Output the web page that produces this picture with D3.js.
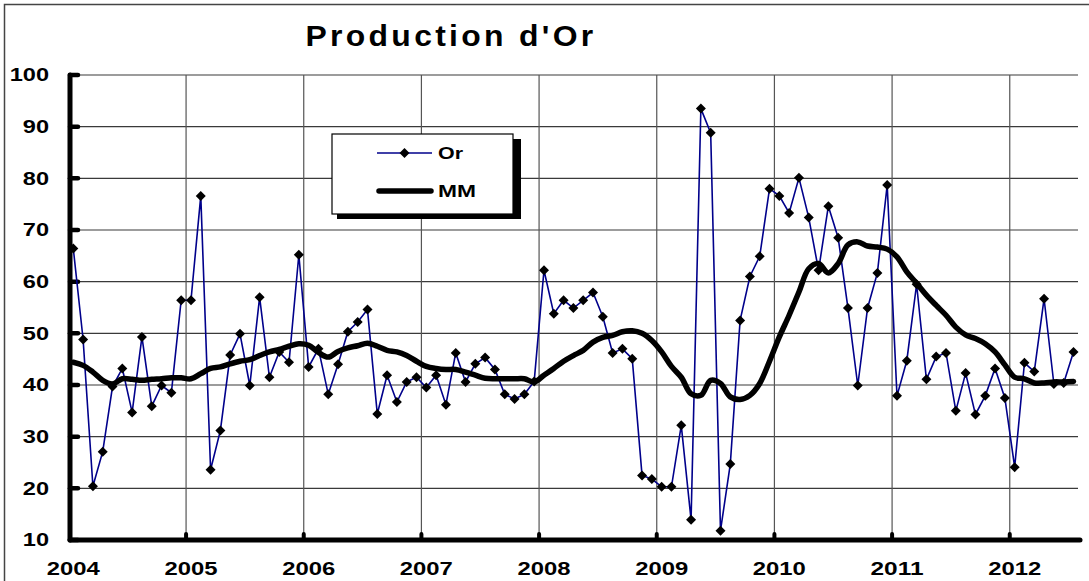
<!DOCTYPE html>
<html>
<head>
<meta charset="utf-8">
<script src="https://cdn.jsdelivr.net/npm/d3@7"></script>
<style>
  body { margin: 0; background: #fff; }
  svg { display: block; }
</style>
</head>
<body>
<script>
// data (monthly, Jan 2004 .. Jul 2012)
const years = ['2004','2005','2006','2007','2008','2009','2010','2011','2012']
const y_ticks = [10,20,30,40,50,60,70,80,90,100]
const or_values = [
    66.4, 48.8, 20.4, 27.1, 39.7, 43.2, 34.7, 49.3, 35.9, 39.9, 38.5, 56.4,
    56.4, 76.6, 23.6, 31.2, 45.8, 49.9, 39.9, 57.0, 41.5, 46.4, 44.4, 65.2,
    43.5, 47.0, 38.2, 44.0, 50.3, 52.2, 54.6, 34.4, 41.9, 36.7, 40.6, 41.5,
    39.5, 41.9, 36.2, 46.2, 40.6, 44.1, 45.3, 43.0, 38.2, 37.3, 38.2, 40.7,
    62.2, 53.8, 56.4, 54.9, 56.4, 57.9, 53.2, 46.2, 47.0, 45.1, 22.5, 21.8,
    20.3, 20.3, 32.2, 13.9, 93.5, 88.8, 11.8, 24.7, 52.5, 61.0, 64.9, 78.0,
    76.6, 73.3, 80.1, 72.4, 62.2, 74.6, 68.5, 54.9, 39.9, 54.9, 61.7, 78.7,
    37.9, 44.7, 59.5, 41.1, 45.5, 46.2, 35.0, 42.3, 34.3, 37.9, 43.2, 37.5,
    24.1, 44.3, 42.6, 56.7, 40.2, 40.4, 46.4
]
const mm_values = [
    44.4, 43.8, 42.5, 40.9, 40.2, 41.2, 41.1, 40.9, 41.1, 41.2, 41.4, 41.4,
    41.2, 42.2, 43.2, 43.5, 44.1, 44.6, 44.9, 45.7, 46.4, 46.9, 47.5, 48.0,
    47.7, 46.3, 45.4, 46.5, 47.2, 47.6, 48.1, 47.5, 46.7, 46.4, 45.7, 44.6,
    43.6, 43.2, 43.0, 43.0, 42.5, 41.9, 41.3, 41.2, 41.2, 41.2, 41.2, 40.6,
    41.9, 43.2, 44.6, 45.7, 46.7, 48.3, 49.2, 49.6, 50.3, 50.5, 50.0, 48.6,
    46.4, 43.6, 41.5, 38.3, 38.0, 40.9, 40.3, 37.7, 37.2, 38.0, 40.3, 44.6,
    49.3, 53.5, 58.0, 62.5, 63.5, 61.7, 63.5, 67.1, 67.7, 66.9, 66.7, 66.3,
    64.8, 61.9, 59.7, 57.4, 55.4, 53.5, 51.2, 49.7, 49.0, 48.0, 46.4, 43.9,
    41.5, 41.2, 40.4, 40.4, 40.6, 40.6, 40.7
]
const months = or_values.map((_, i) => `${2004 + Math.floor(i / 12)}-${String(i % 12 + 1).padStart(2, '0')}`)

const W = 1089, H = 581
const font = "'Liberation Sans', Arial, sans-serif"

const svg = d3.select('body').append('svg')
    .attr('width', W)
    .attr('height', H)

// chart frame
svg.append('rect')
    .attr('x', 4.5).attr('y', 4.5)
    .attr('width', W + 10).attr('height', H + 10)
    .attr('fill', '#fff')
    .attr('stroke', '#444')
    .attr('stroke-width', 1.5)

const x = d3.scaleBand().domain(months).range([68.4, 1078.4])
const y = d3.scaleLinear().domain([10, 100]).range([540, 75])
const cx = d => x(d) + x.bandwidth() / 2

// title
svg.append('text')
    .attr('x', 451).attr('y', 46)
    .attr('text-anchor', 'middle')
    .attr('textLength', 291)
    .attr('lengthAdjust', 'spacingAndGlyphs')
    .style('font-family', font)
    .style('font-size', '29px')
    .style('font-weight', 'bold')
    .style('letter-spacing', '3px')
    .text("Production d'Or")

// gridlines
const grid = svg.append('g')
grid.selectAll('line.h')
    .data(y_ticks.filter(t => t > 10))
    .enter().append('line')
    .attr('x1', 70).attr('x2', 1078)
    .attr('y1', d => y(d)).attr('y2', d => y(d))
    .attr('stroke', '#3a3a3a')
    .attr('stroke-width', 1.2)
const year_starts = years.slice(1).map(yr => `${yr}-01`)
grid.selectAll('line.v')
    .data(year_starts)
    .enter().append('line')
    .attr('x1', d => x(d)).attr('x2', d => x(d))
    .attr('y1', 75).attr('y2', 540)
    .attr('stroke', '#555')
    .attr('stroke-width', 1.2)

// y axis
const y_axis = svg.append('g')
    .attr('transform', 'translate(70,0)')
    .call(d3.axisLeft(y).tickValues(y_ticks).tickSize(0).tickPadding(21))
y_axis.select('.domain').remove()
y_axis.selectAll('text')
    .style('font-family', font)
    .style('font-size', '18.5px')
    .style('font-weight', 'bold')
    .attr('fill', '#000')
    .attr('textLength', d => String(d).length * 13.1)
    .attr('lengthAdjust', 'spacingAndGlyphs')

// x axis
const x_axis = svg.append('g')
    .attr('transform', 'translate(0,540)')
    .call(d3.axisBottom(x).tickValues(years.map(yr => `${yr}-01`)).tickSize(0).tickPadding(22)
        .tickFormat(d => d.slice(0, 4)))
x_axis.select('.domain').remove()
x_axis.selectAll('text')
    .style('font-family', font)
    .style('font-size', '18.5px')
    .style('font-weight', 'bold')
    .attr('fill', '#000')
    .attr('textLength', 53)
    .attr('lengthAdjust', 'spacingAndGlyphs')

// thick axis lines and tick marks
svg.append('line')
    .attr('x1', 70).attr('x2', 70).attr('y1', 75).attr('y2', 540)
    .attr('stroke', '#000').attr('stroke-width', 5).attr('stroke-linecap', 'round')
svg.append('line')
    .attr('x1', 70).attr('x2', 1080).attr('y1', 540).attr('y2', 540)
    .attr('stroke', '#000').attr('stroke-width', 5).attr('stroke-linecap', 'round')
svg.selectAll('line.ytick')
    .data(y_ticks)
    .enter().append('line')
    .attr('x1', 70).attr('x2', 78)
    .attr('y1', d => y(d)).attr('y2', d => y(d))
    .attr('stroke', '#000').attr('stroke-width', 4.5).attr('stroke-linecap', 'round')
svg.selectAll('line.xtick')
    .data(year_starts)
    .enter().append('line')
    .attr('x1', d => x(d)).attr('x2', d => x(d))
    .attr('y1', 540).attr('y2', 534)
    .attr('stroke', '#000').attr('stroke-width', 4).attr('stroke-linecap', 'round')

// diamond marker path
const diamond = (s) => `M0,${-s}L${s},0L0,${s}L${-s},0Z`

// Or series
const or_line = d3.line()
    .x((_, i) => cx(months[i]))
    .y(d => y(d))
svg.append('path')
    .datum(or_values)
    .attr('d', or_line)
    .attr('fill', 'none')
    .attr('stroke', '#00008b')
    .attr('stroke-width', 1.6)
svg.selectAll('path.marker')
    .data(or_values)
    .enter().append('path')
    .attr('d', diamond(5))
    .attr('transform', (d, i) => `translate(${cx(months[i])},${y(d)})`)
    .attr('fill', '#000')

// MM series (moving average)
const mm_line = d3.line()
    .x((_, i) => cx(months[i]))
    .y(d => y(d))
    .curve(d3.curveCatmullRom.alpha(0.5))
svg.append('path')
    .datum(mm_values)
    .attr('d', mm_line)
    .attr('fill', 'none')
    .attr('stroke', '#000')
    .attr('stroke-width', 5.5)
    .attr('stroke-linejoin', 'round')
    .attr('stroke-linecap', 'round')

// legend
const legend = svg.append('g')
legend.append('rect')
    .attr('x', 337).attr('y', 139).attr('width', 184).attr('height', 80)
    .attr('fill', '#000')
legend.append('rect')
    .attr('x', 332).attr('y', 134).attr('width', 181).attr('height', 80)
    .attr('fill', '#fff').attr('stroke', '#000').attr('stroke-width', 1.2)
legend.append('line')
    .attr('x1', 377).attr('x2', 432).attr('y1', 153).attr('y2', 153)
    .attr('stroke', '#00008b').attr('stroke-width', 1.6)
legend.append('path')
    .attr('d', diamond(5))
    .attr('transform', 'translate(404.5,153)')
    .attr('fill', '#000')
legend.append('line')
    .attr('x1', 379).attr('x2', 431).attr('y1', 191).attr('y2', 191)
    .attr('stroke', '#000').attr('stroke-width', 5.5).attr('stroke-linecap', 'round')
const legend_labels = [['Or', 159, 25], ['MM', 197, 38]]
legend.selectAll('text')
    .data(legend_labels)
    .enter().append('text')
    .attr('x', 438)
    .attr('y', d => d[1])
    .attr('textLength', d => d[2])
    .attr('lengthAdjust', 'spacingAndGlyphs')
    .style('font-family', font)
    .style('font-size', '16.5px')
    .style('font-weight', 'bold')
    .text(d => d[0])
</script>
</body>
</html>
